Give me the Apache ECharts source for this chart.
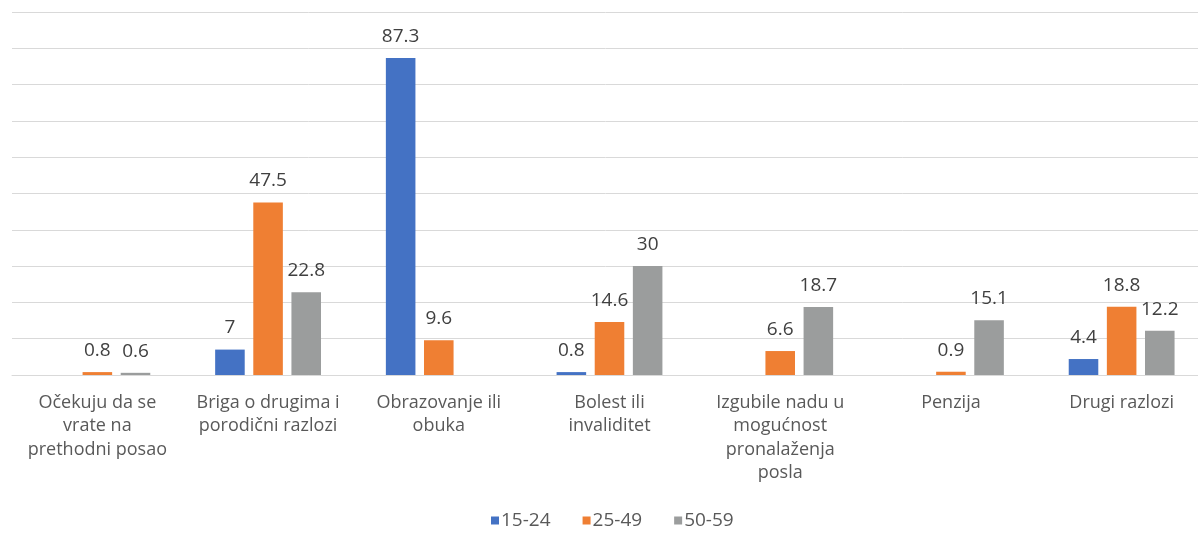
<!DOCTYPE html>
<html lang="sr">
<head>
  <meta charset="UTF-8">
  <title>chart</title>
  <script src="https://cdn.jsdelivr.net/npm/echarts@6/dist/echarts.min.js"></script>
  <style>
    *{margin:0;padding:0;}
    body{background:#fff;}
    .container{width:1198px;height:537px;}
  </style>
</head>
<body>
  <div class="container"></div>
  <script type="text/javascript">
    var categories = [
      'Očekuju da se\nvrate na\nprethodni posao',
      'Briga o drugima i\nporodični razlozi',
      'Obrazovanje ili\nobuka',
      'Bolest ili\ninvaliditet',
      'Izgubile nadu u\nmogućnost\npronalaženja\nposla',
      'Penzija',
      'Drugi razlozi'
    ]
    var age1524 = [null, 7, 87.3, 0.8, null, null, 4.4]
    var age2549 = [0.8, 47.5, 9.6, 14.6, 6.6, 0.9, 18.8]
    var age5059 = [0.6, 22.8, null, 30, 18.7, 15.1, 12.2]
    var seriesNames = ['15-24', '25-49', '50-59']
    var colors = ['#4472c4', '#ef7f33', '#9b9d9d']

    const mCharts = echarts.init(document.querySelector('.container'))

    var labelStyle = {
      show: true,
      position: 'top',
      fontFamily: 'Open Sans',
      fontSize: 19,
      color: '#404040',
      distance: 12
    }

    var option = {
      animation: false,
      color: colors,
      grid: {left: 12, width: 1195, top: 12, bottom: 162, outerBoundsMode: 'none'},
      legend: {
        bottom: 2,
        left: 486,
        itemWidth: 8,
        itemHeight: 8,
        itemGap: 32,
        icon: 'rect',
        textStyle: {fontFamily: 'Open Sans', fontSize: 19, color: '#595959', padding: [0, 0, 0, -3]},
        data: seriesNames
      },
      xAxis: {
        type: 'category',
        data: categories,
        axisTick: {show: false},
        axisLine: {lineStyle: {color: '#d9d9d9', width: 1}},
        axisLabel: {
          interval: 0,
          margin: 16,
          fontFamily: 'Open Sans',
          fontSize: 18,
          lineHeight: 23.5,
          color: '#595959'
        }
      },
      yAxis: {
        type: 'value',
        min: 0,
        max: 100,
        interval: 10,
        axisLabel: {show: false},
        axisLine: {show: false},
        axisTick: {show: false},
        splitLine: {lineStyle: {color: '#d9d9d9', width: 1}}
      },
      series: [
        {name: seriesNames[0], type: 'bar', data: age1524, barGap: '29%', barCategoryGap: '38%', label: labelStyle},
        {name: seriesNames[1], type: 'bar', data: age2549, label: labelStyle},
        {name: seriesNames[2], type: 'bar', data: age5059, label: labelStyle}
      ]
    }
    mCharts.setOption(option)
    window.onresize = mCharts.resize
  </script>
</body>
</html>
